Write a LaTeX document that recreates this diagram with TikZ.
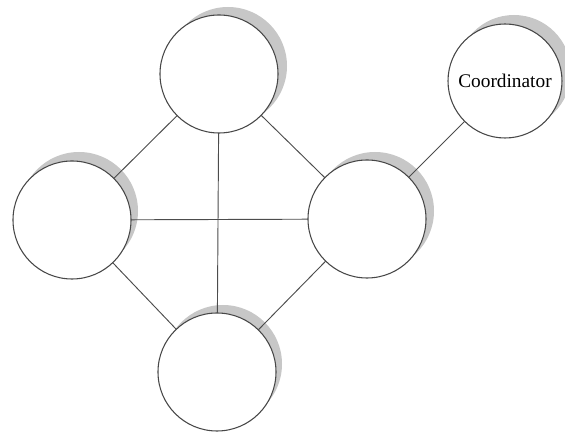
\documentclass[tikz,border=0pt]{standalone}
\usepackage{fontspec}
\setmainfont{Liberation Serif}
\begin{document}
\begin{tikzpicture}[x=0.75pt,y=-0.75pt,
  peer/.style={circle,draw=black!72,line width=0.8pt,fill=white,minimum size=88.5pt,inner sep=0pt,outer sep=0pt},
  coord/.style={peer,minimum size=85.5pt,font=\fontsize{14.5}{15}\selectfont},
  shade/.style={circle,fill=black!22,minimum size=88.5pt,inner sep=0pt,draw=none},
  link/.style={draw=black!70,line width=0.7pt}]
\useasboundingbox (0,0) rectangle (565,434);
% shadows
\node[shade] (st) at (228,66) {};
\node[shade] (sl) at (79,211) {};
\node[shade] (sr) at (375,211) {};
\node[shade] (sb) at (223,364) {};
\node[shade,minimum size=85.5pt] (sc) at (514,72) {};
% nodes
\node[peer] (top) at (219,74) {};
\node[peer] (left) at (72,220) {};
\node[peer] (right) at (367,219) {};
\node[peer] (bottom) at (217,372) {};
\node[coord] (coordinator) at (505,81) {Coordinator};
% links
\draw[link] (top) -- (left);
\draw[link] (top) -- (right);
\draw[link] (top) -- (bottom);
\draw[link] (left) -- (right);
\draw[link] (left) -- (bottom);
\draw[link] (right) -- (bottom);
\draw[link] (right) -- (coordinator);
\end{tikzpicture}
\end{document}
